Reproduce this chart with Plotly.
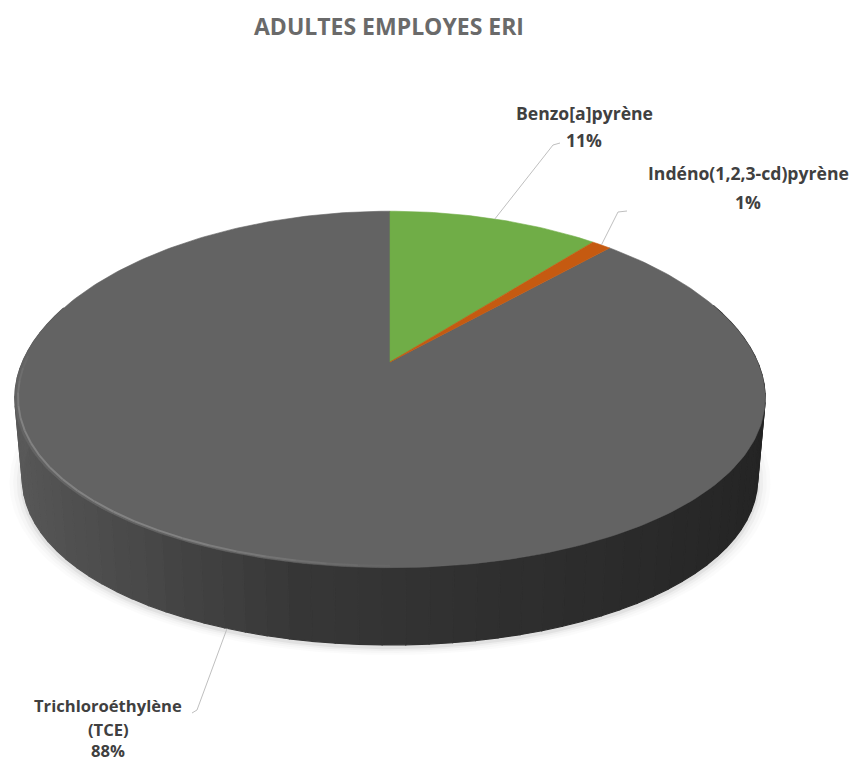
import numpy as np
import plotly.graph_objects as go

# Data
categories = ["Benzo[a]pyrène", "Indéno(1,2,3-cd)pyrène", "Trichloroéthylène (TCE)"]
shares = [11, 1, 88]
slice_colors = ["#70AD47", "#C55A11", "#636363"]
title_text = "ADULTES EMPLOYES ERI"
label_lines = [["Benzo[a]pyrène"], ["Indéno(1,2,3-cd)pyrène"], ["Trichloroéthylène", "(TCE)"]]

# Perspective disc, in page pixels
CX, CY = 390.0, 362.0
RX, RY = 367.6, 174.0
PERSP_X, PERSP_Y = 0.20, 0.154
DEPTH = 81.4
BASE_SCALE = 0.98
LABEL_FONT = "Open Sans"


def project(theta, lower=False, scale=1.0, radius=1.0):
    """Clockwise angle from 12 o'clock (radians) to page x, y."""
    u = np.sin(theta) * radius
    v = np.cos(theta) * radius
    s = (BASE_SCALE if lower else 1.0) * scale
    x = CX + RX * s * u / (1 + PERSP_X * v)
    y = CY + (DEPTH if lower else 0.0) - RY * s * v / (1 + PERSP_Y * v)
    return x, y


def closed(x, y):
    return np.append(x, x[0]), np.append(y, y[0])


fig = go.Figure()


def add_poly(x, y, fill, line=None, width=1.2):
    fig.add_trace(go.Scatter(
        x=x, y=y, mode="lines", fill="toself", fillcolor=fill,
        line=dict(color=line or fill, width=width),
        hoverinfo="skip", showlegend=False,
    ))


full = np.linspace(0, 2 * np.pi, 361)

# Soft outer shadow under the disc
for scale, alpha in [(1.035, 0.015), (1.025, 0.02), (1.015, 0.03), (1.006, 0.05)]:
    x, y = project(full, lower=True, scale=scale)
    add_poly(x, y + 3, f"rgba(0,0,0,{alpha})", line="rgba(0,0,0,0)", width=0)

# Side wall, shaded slat by slat from left to right
edges = np.radians(np.arange(70, 292, 3))
for a, b in zip(edges[:-1], edges[1:]):
    seg = np.linspace(a, b, 4)
    xt, yt = project(seg)
    xb, yb = project(seg[::-1], lower=True)
    shade = int(np.interp(np.sin((a + b) / 2), [-1, -0.6, -0.2, 0.2, 1], [0x5A, 0x4A, 0x37, 0x30, 0x24]))
    color = f"rgb({shade},{shade},{shade})"
    add_poly(*closed(np.concatenate([xt, xb]), np.concatenate([yt, yb])), color)

# Top face, one wedge per category
cum = np.cumsum([0] + shares) / sum(shares) * 2 * np.pi
order = [2, 0, 1]
for i in order:
    theta = np.linspace(cum[i], cum[i + 1], max(int(np.degrees(cum[i + 1] - cum[i])), 2) + 1)
    x, y = project(theta)
    add_poly(*closed(np.append(CX, x), np.append(CY, y)), slice_colors[i], width=0.6)

# Bevel highlight along the front-left rim
rim_deg = np.arange(176, 274, 4)
for a, b in zip(rim_deg[:-1], rim_deg[1:]):
    x, y = project(np.radians(np.linspace(a, b, 4)), radius=0.992)
    fade = np.clip(min((a - 176) / 30, (272 - a) / 22), 0, 1)
    fig.add_trace(go.Scatter(
        x=x, y=y, mode="lines",
        line=dict(color=f"rgba(135,135,135,{0.85 * fade:.2f})", width=2),
        hoverinfo="skip", showlegend=False,
    ))

# Leader lines: rim of each slice's midpoint to its label
mids = (cum[:-1] + cum[1:]) / 2
leader_knees = [[(553, 145), (560, 143)], [(618, 212), (627, 211)], [(197, 710), (192, 713)]]
for i, knee in enumerate(leader_knees):
    sx, sy = project(mids[i], lower=i == 2)
    fig.add_trace(go.Scatter(
        x=[sx] + [p[0] for p in knee], y=[sy] + [p[1] for p in knee], mode="lines",
        line=dict(color="#BFBFBF", width=1),
        hoverinfo="skip", showlegend=False,
    ))

# Data labels, line by line
label_x = [584, 748, 108]
label_y = [[113, 140], [173, 202], [705, 729, 750]]
label_size = [17.6, 17.6, 16.6]
for i, lines in enumerate(label_lines):
    rows = lines + [f"{shares[i]}%"]
    for row, yy in zip(rows, label_y[i]):
        fig.add_annotation(
            x=label_x[i], y=yy, text=f"<b>{row}</b>", showarrow=False,
            xanchor="center", yanchor="middle",
            font=dict(family=LABEL_FONT, size=label_size[i], color="#404040"),
        )

fig.add_annotation(
    x=389, y=26, text=f"<b>{title_text}</b>", showarrow=False,
    xanchor="center", yanchor="middle",
    font=dict(family=LABEL_FONT, size=23, color="#6A6A6A"),
)

fig.update_layout(
    width=851, height=762,
    margin=dict(l=0, r=0, t=0, b=0),
    paper_bgcolor="white", plot_bgcolor="white",
    showlegend=False,
    xaxis=dict(range=[0, 851], visible=False, fixedrange=True),
    yaxis=dict(range=[762, 0], visible=False, fixedrange=True),
)

fig.write_html("out.html", config={"displayModeBar": False})
